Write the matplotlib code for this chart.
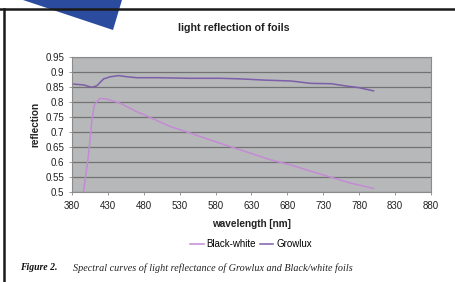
import numpy as np
import matplotlib
matplotlib.use("Agg")
import matplotlib.pyplot as plt
from matplotlib.patches import Polygon
from matplotlib.lines import Line2D

# data
bw_wl = [396, 403, 407.5, 411, 419, 428, 447, 470, 494, 517, 543, 573, 601, 629, 657, 685, 713, 741, 769, 800]
bw_refl = [0.5, 0.623, 0.734, 0.79, 0.812, 0.81, 0.796, 0.768, 0.743, 0.718, 0.698, 0.673, 0.651, 0.629, 0.607, 0.59, 0.569, 0.549, 0.529, 0.512]

gl_wl = [380, 396, 407.5, 414.5, 424, 433, 445, 457, 470, 499, 543, 587, 615, 648, 685, 713, 741, 760, 779, 800]
gl_refl = [0.86, 0.857, 0.849, 0.854, 0.877, 0.884, 0.888, 0.884, 0.881, 0.881, 0.879, 0.879, 0.877, 0.873, 0.87, 0.862, 0.861, 0.854, 0.848, 0.837]

yticks = [0.5, 0.55, 0.6, 0.65, 0.7, 0.75, 0.8, 0.85, 0.9, 0.95]
ytick_labels = ["0.5", "0.55", "0.6", "0.65", "0.7", "0.75", "0.8", "0.85", "0.9", "0.95"]
xticks = [380, 430, 480, 530, 580, 630, 680, 730, 780, 830, 880]

plt.rcParams['font.family'] = ['Liberation Sans', 'DejaVu Sans']

fig = plt.figure(figsize=(4.56, 2.82), dpi=100)
W, H = 456.0, 282.0

# page decoration: frame and blue corner
fig.add_artist(Line2D([4 / W, 4 / W], [0, 1 - 8.5 / H], color='#1a1a1a', lw=1.8))
fig.add_artist(Line2D([0, 1], [1 - 8.5 / H, 1 - 8.5 / H], color='#1a1a1a', lw=1.8))
fig.add_artist(Polygon([[23 / W, 1], [122 / W, 1], [113 / W, 1 - 30 / H]],
                       closed=True, facecolor='#2b4c9e', edgecolor='none',
                       transform=fig.transFigure))

ax = fig.add_axes([72 / W, 1 - 192 / H, 359 / W, 135 / H])
ax.set_facecolor('#b6b8ba')
ax.plot(bw_wl, bw_refl, color='#c48ad6', lw=1.1, label='Black-white')
ax.plot(gl_wl, gl_refl, color='#7d5ea8', lw=1.1, label='Growlux')

ax.set_xlim(380, 880)
ax.set_ylim(0.5, 0.95)
ax.set_yticks(yticks)
ax.set_yticklabels(ytick_labels)
ax.set_xticks(xticks)
ax.yaxis.grid(True, color='#727272', lw=0.9)
ax.set_axisbelow(True)
for s in ax.spines.values():
    s.set_color('#8a8a8a')
    s.set_linewidth(0.8)
ax.tick_params(axis='both', labelsize=7, colors='#8a8a8a', labelcolor='#222222',
               length=2.5, width=0.6, pad=3)
ax.tick_params(axis='x', pad=4)

ax.set_xlabel('wavelength [nm]', fontsize=7.2, fontweight='bold', labelpad=6, color='#222222')
ax.set_ylabel('reflection', fontsize=7.2, fontweight='bold', labelpad=4, color='#222222')

fig.text(234 / W, 1 - 28 / H, 'light reflection of foils', ha='center', va='center',
         fontsize=7.7, fontweight='bold', color='#222222')

fig.legend(loc='center', bbox_to_anchor=(251 / W, 1 - 244 / H), ncol=2, frameon=False,
           fontsize=7, handlelength=1.4, handletextpad=0.3, columnspacing=0.4)

fig.text(20 / W, 1 - 268 / H, 'Figure 2.', ha='left', va='center', fontsize=7,
         family='Liberation Serif', style='italic', fontweight='bold', color='#111111')
fig.text(73 / W, 1 - 268 / H,
         'Spectral curves of light reflectance of Growlux and Black/white foils',
         ha='left', va='center', fontsize=7.3, family='Liberation Serif', style='italic',
         color='#222222')

fig.savefig('out.png', dpi=100)
